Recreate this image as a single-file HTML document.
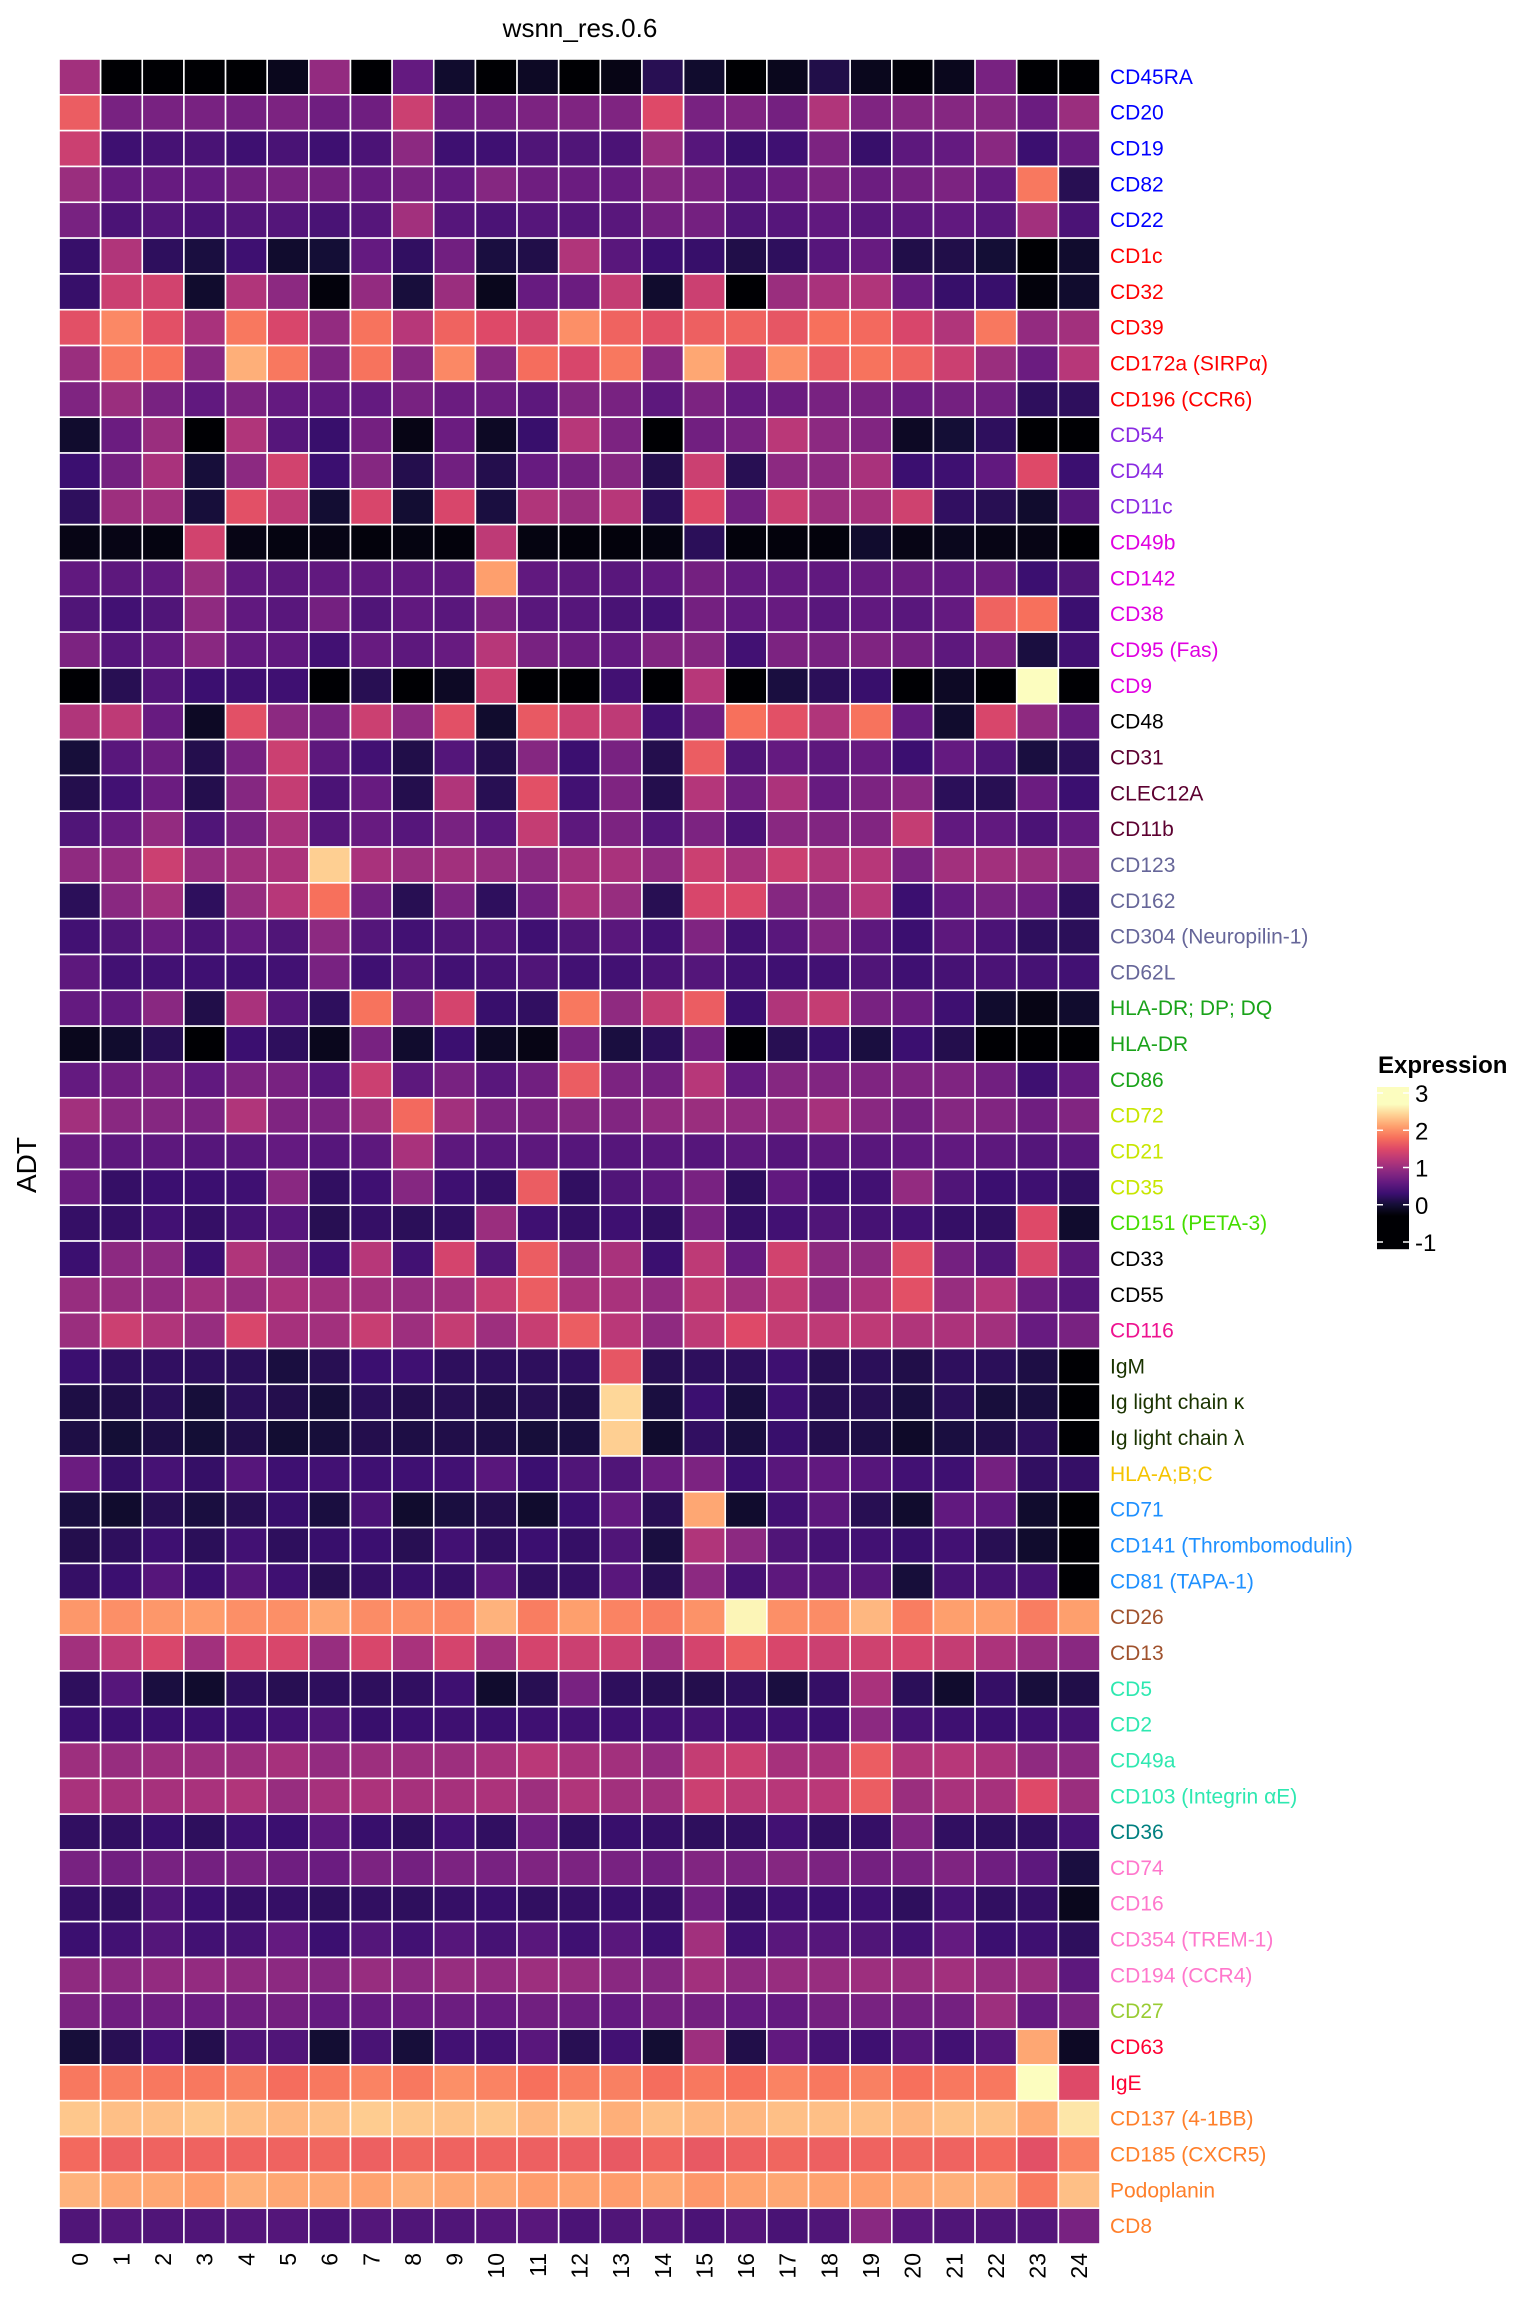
<!DOCTYPE html>
<html><head><meta charset="utf-8"><title>wsnn_res.0.6 heatmap</title>
<style>
html,body{margin:0;padding:0;background:#fff;}
svg{display:block;font-family:"Liberation Sans",Arial,sans-serif;}
</style></head>
<body>
<svg id="chart" width="1536" height="2304" viewBox="0 0 1536 2304" xmlns="http://www.w3.org/2000/svg">
<text x="580" y="37" font-size="26" text-anchor="middle" fill="#000">wsnn_res.0.6</text>
<text x="0" y="0" font-size="28" text-anchor="middle" fill="#000" transform="translate(36,1165) rotate(-90)">ADT</text>
<g id="cells"></g>
<g id="rowlabels"></g>
<g id="collabels"></g>
<g id="legend">
<text x="1378" y="1073" font-size="24" font-weight="bold" fill="#000">Expression</text>
</g>
</svg>
<script>
const markers = ["CD45RA","CD20","CD19","CD82","CD22","CD1c","CD32","CD39","CD172a (SIRPα)","CD196 (CCR6)","CD54","CD44","CD11c","CD49b","CD142","CD38","CD95 (Fas)","CD9","CD48","CD31","CLEC12A","CD11b","CD123","CD162","CD304 (Neuropilin-1)","CD62L","HLA-DR; DP; DQ","HLA-DR","CD86","CD72","CD21","CD35","CD151 (PETA-3)","CD33","CD55","CD116","IgM","Ig light chain κ","Ig light chain λ","HLA-A;B;C","CD71","CD141 (Thrombomodulin)","CD81 (TAPA-1)","CD26","CD13","CD5","CD2","CD49a","CD103 (Integrin αE)","CD36","CD74","CD16","CD354 (TREM-1)","CD194 (CCR4)","CD27","CD63","IgE","CD137 (4-1BB)","CD185 (CXCR5)","Podoplanin","CD8"];
const labelColors = ["#0000ff","#0000ff","#0000ff","#0000ff","#0000ff","#ff0000","#ff0000","#ff0000","#ff0000","#ff0000","#8a2be2","#8a2be2","#8a2be2","#e000e0","#e000e0","#e000e0","#e000e0","#e000e0","#000000","#5c0030","#5c0030","#5c0030","#666699","#666699","#666699","#666699","#1aa31a","#1aa31a","#1aa31a","#c8e600","#c8e600","#c8e600","#44dd00","#000000","#000000","#ee1290","#1a3300","#1a3300","#1a3300","#f5c400","#1e90ff","#1e90ff","#1e90ff","#a0522d","#a0522d","#2ee8b0","#2ee8b0","#2ee8b0","#2ee8b0","#008080","#ff77cc","#ff77cc","#ff77cc","#ff77cc","#99cc33","#ff0033","#ff0033","#ff7f2a","#ff7f2a","#ff7f2a","#ff7f2a"];
const clusters = ["0","1","2","3","4","5","6","7","8","9","10","11","12","13","14","15","16","17","18","19","20","21","22","23","24"];
const legendTicks = [-1,0,1,2,3];
const expression = [
[1.05,-0.3,-0.3,-0.35,-0.3,-0.15,0.95,-0.3,0.6,-0.05,-0.3,-0.1,-0.3,-0.2,0.15,-0.05,-0.3,-0.15,0.1,-0.15,-0.25,-0.15,0.75,-0.35,-0.35],
[1.65,0.75,0.75,0.75,0.72,0.78,0.68,0.68,1.35,0.68,0.72,0.78,0.8,0.8,1.5,0.75,0.8,0.72,1.15,0.8,0.85,0.85,0.85,0.65,1.0],
[1.35,0.32,0.38,0.4,0.32,0.4,0.32,0.42,0.9,0.32,0.33,0.45,0.45,0.42,1.0,0.5,0.28,0.33,0.78,0.27,0.55,0.6,0.88,0.3,0.62],
[1.0,0.62,0.62,0.6,0.7,0.75,0.72,0.62,0.75,0.6,0.85,0.68,0.65,0.62,0.85,0.78,0.55,0.65,0.78,0.66,0.72,0.78,0.6,1.85,0.15],
[0.75,0.42,0.48,0.42,0.48,0.48,0.4,0.5,1.05,0.5,0.42,0.5,0.5,0.52,0.72,0.72,0.45,0.5,0.58,0.52,0.55,0.58,0.52,1.05,0.42],
[0.27,1.15,0.2,0.05,0.32,-0.05,0.0,0.6,0.22,0.7,0.05,0.1,1.15,0.52,0.3,0.27,0.1,0.2,0.5,0.62,0.1,0.1,0.0,-0.3,-0.05],
[0.27,1.35,1.4,-0.05,1.15,0.9,-0.25,0.95,0.03,1.0,-0.15,0.62,0.65,1.3,-0.05,1.35,-0.3,1.0,1.1,1.15,0.62,0.27,0.28,-0.25,-0.05],
[1.55,1.95,1.55,1.1,1.85,1.45,0.95,1.82,1.2,1.7,1.5,1.4,2.0,1.7,1.55,1.68,1.7,1.6,1.8,1.75,1.45,1.15,1.85,0.95,1.05],
[1.0,1.85,1.8,0.88,2.2,1.85,0.8,1.82,0.88,1.95,0.88,1.78,1.45,1.85,0.88,2.15,1.35,2.0,1.65,1.82,1.7,1.35,1.0,0.65,1.2],
[0.8,1.0,0.75,0.58,0.78,0.6,0.58,0.6,0.75,0.65,0.66,0.55,0.82,0.75,0.55,0.78,0.6,0.65,0.75,0.75,0.66,0.72,0.7,0.2,0.2],
[-0.05,0.65,1.0,-0.4,1.15,0.5,0.28,0.72,-0.2,0.65,-0.1,0.28,1.2,0.78,-0.35,0.7,0.75,1.22,0.9,0.82,-0.1,0.0,0.2,-0.4,-0.45],
[0.3,0.72,1.1,0.02,0.9,1.4,0.3,0.85,0.12,0.7,0.12,0.62,0.72,0.85,0.12,1.35,0.15,0.9,0.9,1.1,0.3,0.32,0.58,1.5,0.3],
[0.2,1.02,1.05,0.02,1.55,1.25,-0.02,1.45,-0.02,1.45,0.05,1.15,1.0,1.2,0.18,1.5,0.7,1.35,1.02,1.08,1.38,0.22,0.15,-0.05,0.5],
[-0.2,-0.2,-0.22,1.4,-0.2,-0.22,-0.2,-0.25,-0.22,-0.25,1.25,-0.22,-0.25,-0.25,-0.22,0.18,-0.25,-0.25,-0.25,-0.05,-0.2,-0.15,-0.2,-0.2,-0.45],
[0.58,0.55,0.58,1.0,0.58,0.55,0.58,0.58,0.58,0.58,2.1,0.58,0.55,0.52,0.58,0.72,0.6,0.6,0.58,0.62,0.65,0.6,0.65,0.3,0.45],
[0.45,0.35,0.45,0.92,0.58,0.52,0.72,0.45,0.58,0.52,0.78,0.52,0.5,0.4,0.35,0.72,0.58,0.62,0.52,0.58,0.52,0.6,1.7,1.8,0.3],
[0.78,0.5,0.6,0.88,0.6,0.58,0.35,0.62,0.55,0.62,1.2,0.75,0.65,0.6,0.82,0.85,0.35,0.78,0.75,0.8,0.72,0.55,0.72,0.05,0.35],
[-0.5,0.15,0.48,0.3,0.32,0.33,-0.35,0.15,-0.5,-0.1,1.35,-0.45,-0.35,0.35,-0.5,1.2,-0.5,0.05,0.18,0.28,-0.5,-0.1,-0.35,3.0,-0.5],
[1.15,1.25,0.62,-0.1,1.55,0.9,0.75,1.35,0.9,1.55,-0.05,1.62,1.35,1.25,0.32,0.7,1.8,1.55,1.15,1.82,0.6,-0.05,1.45,0.92,0.62],
[0.02,0.52,0.66,0.12,0.75,1.35,0.55,0.35,0.1,0.48,0.12,0.85,0.3,0.75,0.12,1.65,0.45,0.6,0.55,0.62,0.3,0.6,0.45,0.05,0.18],
[0.12,0.35,0.65,0.12,0.85,1.3,0.42,0.62,0.12,1.15,0.15,1.55,0.35,0.8,0.12,1.18,0.68,1.12,0.62,0.78,0.88,0.18,0.15,0.65,0.3],
[0.45,0.62,0.95,0.45,0.75,1.1,0.5,0.62,0.5,0.75,0.52,1.3,0.55,0.78,0.48,0.78,0.42,0.88,0.82,0.82,1.3,0.58,0.58,0.42,0.6],
[0.92,0.95,1.35,0.98,1.05,1.12,2.4,1.1,1.0,1.05,0.98,0.9,1.08,1.1,0.92,1.35,1.08,1.35,1.15,1.2,0.75,1.05,1.05,1.0,0.9],
[0.18,0.88,1.05,0.2,0.98,1.2,1.8,0.7,0.15,0.78,0.2,0.7,1.12,0.98,0.15,1.45,1.48,0.85,0.85,1.2,0.3,0.6,0.75,0.68,0.2],
[0.35,0.45,0.65,0.42,0.6,0.45,0.9,0.48,0.35,0.45,0.48,0.33,0.45,0.52,0.35,0.8,0.35,0.52,0.82,0.55,0.3,0.55,0.42,0.2,0.18],
[0.55,0.35,0.35,0.33,0.33,0.35,0.75,0.33,0.48,0.35,0.38,0.45,0.35,0.35,0.42,0.48,0.35,0.33,0.35,0.45,0.33,0.38,0.42,0.38,0.35],
[0.6,0.58,0.88,0.1,1.1,0.5,0.2,1.82,0.75,1.42,0.28,0.22,1.85,0.92,1.3,1.65,0.3,1.15,1.3,0.75,0.65,0.32,-0.05,-0.2,-0.05],
[-0.15,-0.05,0.15,-0.3,0.3,0.2,-0.15,0.75,-0.05,0.3,-0.1,-0.2,0.75,0.05,0.18,0.72,-0.3,0.15,0.28,0.05,0.3,0.12,-0.3,-0.45,-0.45],
[0.6,0.68,0.75,0.58,0.78,0.75,0.5,1.35,0.55,0.75,0.52,0.7,1.65,0.78,0.72,1.2,0.6,0.85,0.82,0.8,0.8,0.8,0.7,0.32,0.6],
[1.05,0.88,0.85,0.78,1.15,0.8,0.78,1.05,1.75,1.05,0.78,0.78,0.85,0.82,0.95,1.0,0.95,0.95,1.08,0.88,0.72,0.85,0.82,0.68,0.82],
[0.65,0.55,0.55,0.5,0.52,0.6,0.5,0.55,1.1,0.55,0.52,0.55,0.5,0.5,0.52,0.5,0.55,0.5,0.55,0.52,0.58,0.58,0.55,0.48,0.52],
[0.65,0.25,0.3,0.3,0.33,0.88,0.22,0.33,0.85,0.32,0.25,1.65,0.22,0.45,0.55,0.75,0.2,0.58,0.33,0.35,0.95,0.45,0.3,0.32,0.22],
[0.25,0.25,0.35,0.25,0.38,0.5,0.15,0.25,0.18,0.22,1.0,0.33,0.25,0.32,0.22,0.75,0.25,0.35,0.45,0.38,0.35,0.25,0.22,1.5,-0.05],
[0.3,0.9,0.9,0.3,1.15,0.85,0.32,1.2,0.35,1.42,0.45,1.65,0.92,1.1,0.3,1.25,0.62,1.4,0.92,0.92,1.55,0.72,0.45,1.45,0.55],
[0.98,0.98,0.95,1.05,0.98,1.12,1.05,1.05,0.98,1.05,1.32,1.65,1.1,1.1,0.95,1.28,1.05,1.3,0.92,1.12,1.55,0.98,1.18,0.66,0.5],
[1.0,1.35,1.15,0.98,1.45,1.08,1.05,1.32,1.02,1.3,1.02,1.32,1.65,1.22,0.92,1.25,1.5,1.3,1.25,1.25,1.15,1.12,1.05,0.62,0.75],
[0.3,0.22,0.22,0.2,0.18,0.05,0.15,0.3,0.33,0.2,0.2,0.2,0.22,1.6,0.15,0.2,0.2,0.32,0.15,0.18,0.1,0.2,0.18,0.08,-0.5],
[0.08,0.1,0.18,0.02,0.18,0.12,0.02,0.18,0.12,0.15,0.1,0.15,0.1,2.45,0.05,0.3,0.05,0.33,0.15,0.15,0.05,0.18,0.03,0.05,-0.5],
[0.08,0.0,0.08,0.0,0.1,-0.02,0.02,0.12,0.08,0.1,0.08,0.02,0.05,2.4,-0.05,0.22,0.05,0.28,0.12,0.08,-0.08,0.05,0.1,0.2,-0.5],
[0.65,0.25,0.38,0.25,0.5,0.32,0.35,0.33,0.33,0.35,0.52,0.3,0.45,0.45,0.65,0.78,0.3,0.52,0.58,0.5,0.35,0.32,0.72,0.22,0.25],
[0.05,-0.05,0.15,0.05,0.15,0.28,0.05,0.42,-0.05,0.05,0.12,-0.05,0.3,0.6,0.15,2.15,-0.05,0.35,0.55,0.15,-0.05,0.58,0.55,-0.05,-0.5],
[0.12,0.2,0.32,0.18,0.35,0.2,0.28,0.3,0.15,0.35,0.22,0.3,0.25,0.45,0.05,1.15,0.9,0.45,0.38,0.35,0.28,0.35,0.15,-0.05,-0.5],
[0.25,0.3,0.5,0.3,0.5,0.33,0.15,0.25,0.28,0.25,0.52,0.22,0.25,0.52,0.15,0.9,0.38,0.55,0.52,0.5,0.02,0.38,0.38,0.38,-0.5],
[2.05,2.0,2.05,2.08,2.0,2.0,2.15,1.98,2.0,1.95,2.22,1.88,2.1,1.92,1.88,2.02,2.65,2.0,1.98,2.25,1.88,2.1,2.1,1.88,2.1],
[1.05,1.25,1.45,1.05,1.45,1.45,0.98,1.45,1.1,1.42,1.05,1.42,1.35,1.35,1.05,1.42,1.65,1.45,1.35,1.38,1.42,1.3,1.12,0.98,0.88],
[0.2,0.5,0.05,-0.05,0.2,0.15,0.2,0.2,0.22,0.32,-0.05,0.15,0.75,0.2,0.15,0.12,0.2,0.05,0.25,1.1,0.18,-0.05,0.25,0.03,0.1],
[0.3,0.3,0.3,0.3,0.3,0.35,0.45,0.28,0.3,0.32,0.3,0.33,0.35,0.33,0.35,0.38,0.32,0.33,0.3,0.9,0.38,0.32,0.3,0.33,0.38],
[1.02,0.98,1.02,1.02,1.02,1.08,0.95,1.02,1.02,1.02,1.1,1.22,1.1,1.05,0.95,1.3,1.35,1.08,1.1,1.65,1.15,1.2,1.12,0.92,0.9],
[1.1,1.08,1.08,1.1,1.15,0.98,1.08,1.12,1.08,1.08,1.12,1.02,1.15,1.05,1.05,1.35,1.25,1.2,1.22,1.65,1.0,1.1,1.08,1.5,1.0],
[0.22,0.22,0.28,0.2,0.32,0.3,0.55,0.28,0.2,0.35,0.22,0.7,0.22,0.28,0.25,0.2,0.22,0.35,0.22,0.25,0.82,0.22,0.2,0.22,0.38],
[0.75,0.7,0.75,0.72,0.75,0.68,0.65,0.78,0.72,0.78,0.75,0.8,0.78,0.75,0.7,0.82,0.78,0.85,0.78,0.72,0.75,0.8,0.68,0.55,0.05],
[0.25,0.22,0.45,0.3,0.25,0.25,0.2,0.22,0.2,0.25,0.28,0.22,0.25,0.28,0.25,0.7,0.25,0.32,0.3,0.32,0.2,0.38,0.22,0.25,-0.15],
[0.3,0.35,0.48,0.35,0.38,0.6,0.3,0.48,0.35,0.5,0.38,0.52,0.33,0.52,0.3,1.05,0.33,0.52,0.5,0.45,0.35,0.6,0.3,0.32,0.2],
[0.92,0.9,0.95,0.95,0.92,0.9,0.85,0.98,0.9,0.98,0.95,1.02,0.98,0.88,0.85,1.05,0.92,0.98,0.98,1.02,1.0,1.05,0.98,1.0,0.55],
[0.78,0.68,0.68,0.65,0.68,0.72,0.6,0.62,0.65,0.66,0.62,0.7,0.66,0.6,0.72,0.72,0.6,0.6,0.72,0.75,0.72,0.72,1.02,0.6,0.75],
[0.02,0.15,0.35,0.12,0.45,0.45,-0.02,0.4,0.02,0.35,0.35,0.52,0.15,0.35,-0.02,1.02,0.1,0.58,0.38,0.32,0.5,0.35,0.5,2.15,-0.1],
[1.85,1.88,1.85,1.85,1.9,1.78,1.85,1.92,1.85,2.0,1.92,1.8,1.88,1.9,1.78,1.85,1.8,1.92,1.85,1.9,1.8,1.85,1.85,2.75,1.5],
[2.35,2.3,2.3,2.35,2.3,2.25,2.3,2.38,2.35,2.32,2.35,2.25,2.35,2.2,2.3,2.25,2.25,2.3,2.3,2.3,2.25,2.32,2.32,2.15,2.55],
[1.75,1.68,1.7,1.7,1.7,1.7,1.72,1.68,1.72,1.7,1.7,1.68,1.65,1.62,1.7,1.62,1.68,1.72,1.68,1.7,1.72,1.7,1.75,1.55,1.92],
[2.22,2.15,2.15,2.08,2.2,2.15,2.15,2.12,2.2,2.15,2.15,2.08,2.12,2.08,2.15,2.05,2.12,2.15,2.12,2.1,2.15,2.2,2.2,1.85,2.3],
[0.45,0.48,0.45,0.45,0.48,0.48,0.42,0.48,0.45,0.45,0.5,0.52,0.42,0.45,0.48,0.42,0.48,0.4,0.45,0.88,0.52,0.45,0.45,0.48,0.75]
];

const NS = "http://www.w3.org/2000/svg";
const plotLeft = 59, plotTop = 59, plotRight = 1100, plotBottom = 2244;
const cellW = (plotRight - plotLeft) / clusters.length;
const cellH = (plotBottom - plotTop) / markers.length;
const magmaStops = ["#000004","#140e36","#3b0f70","#641a80","#8c2981","#b73779","#de4968","#f7705c","#fe9f6d","#fecf92","#fcfdbf"];
function hex(c){return [parseInt(c.slice(1,3),16),parseInt(c.slice(3,5),16),parseInt(c.slice(5,7),16)];}
function colorFor(v){
  let t = (v + 0.3) / 3.0;
  t = Math.max(0, Math.min(1, t));
  const p = t * (magmaStops.length - 1);
  const i = Math.min(Math.floor(p), magmaStops.length - 2);
  const f = p - i;
  const a = hex(magmaStops[i]), b = hex(magmaStops[i+1]);
  return "rgb(" + a.map((x,k)=>Math.round(x + (b[k]-x)*f)).join(",") + ")";
}
function xScale(j){return plotLeft + j * cellW;}
function yScale(i){return plotTop + i * cellH;}

const cellsG = document.getElementById("cells");
const rowG = document.getElementById("rowlabels");
const colG = document.getElementById("collabels");
const legendG = document.getElementById("legend");

expression.forEach((row, i) => {
  row.forEach((v, j) => {
    const r = document.createElementNS(NS, "rect");
    r.setAttribute("x", xScale(j));
    r.setAttribute("y", yScale(i));
    r.setAttribute("width", cellW);
    r.setAttribute("height", cellH);
    r.setAttribute("fill", colorFor(v));
    r.setAttribute("stroke", "#ffffff");
    r.setAttribute("stroke-width", "1.6");
    
    
    cellsG.appendChild(r);
  });
});

markers.forEach((m, i) => {
  const t = document.createElementNS(NS, "text");
  t.setAttribute("x", 1110);
  t.setAttribute("y", yScale(i) + cellH / 2 + 7);
  t.setAttribute("font-size", "21");
  t.setAttribute("fill", labelColors[i]);
  t.textContent = m;
  
  
  rowG.appendChild(t);
});

clusters.forEach((c, j) => {
  const t = document.createElementNS(NS, "text");
  const cx = xScale(j) + cellW / 2 + 8;
  t.setAttribute("x", 0);
  t.setAttribute("y", 0);
  t.setAttribute("font-size", "23");
  t.setAttribute("text-anchor", "end");
  t.setAttribute("fill", "#000");
  t.setAttribute("transform", "translate(" + cx + "," + 2253 + ") rotate(-90)");
  t.textContent = c;
  
  
  colG.appendChild(t);
});

const legTop = 1087, legBottom = 1249, legX = 1377, legW = 32;
const valAtY = y => 3 - (y - 1093) / 37.25;
for (let y = legTop; y < legBottom; y++) {
  const r = document.createElementNS(NS, "rect");
  r.setAttribute("x", legX);
  r.setAttribute("y", y);
  r.setAttribute("width", legW);
  r.setAttribute("height", 1.2);
  r.setAttribute("fill", colorFor(valAtY(y + 0.5)));
  
  
  legendG.appendChild(r);
}
legendTicks.forEach(v => {
  const y = 1093 + (3 - v) * 37.25;
  [legX, legX + legW - 6].forEach(x0 => {
    const l = document.createElementNS(NS, "line");
    l.setAttribute("x1", x0); l.setAttribute("x2", x0 + 6);
    l.setAttribute("y1", y); l.setAttribute("y2", y);
    l.setAttribute("stroke", "#fff"); l.setAttribute("stroke-width", "1.5");
    
    
    legendG.appendChild(l);
  });
  const t = document.createElementNS(NS, "text");
  t.setAttribute("x", 1415);
  t.setAttribute("y", y + 9);
  t.setAttribute("font-size", "24");
  t.setAttribute("fill", "#000");
  t.textContent = String(v);
  
  
  legendG.appendChild(t);
});
</script>
</body></html>
